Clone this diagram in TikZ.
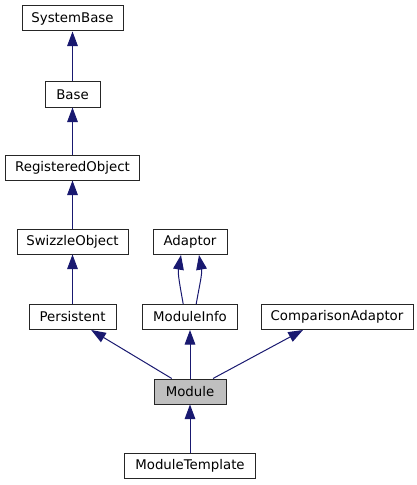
\documentclass[tikz,border=0pt]{standalone}
\usepackage{fontspec}
\setmainfont{DejaVu Sans}
\usetikzlibrary{arrows.meta}
\definecolor{edgeblue}{HTML}{191970}
\definecolor{current}{HTML}{BFBFBF}

\begin{document}
\begin{tikzpicture}[x=0.75pt,y=-0.75pt,
	cls/.style={draw=black!85,line width=0.75pt,fill=white,font=\fontsize{10}{12}\selectfont,
		minimum height=18.75pt,inner sep=0pt},
	inherit/.style={edgeblue,line width=0.75pt,{Triangle[length=11pt,width=8pt]}-}]
	\useasboundingbox (0,0) rectangle (417,485);
	% classes
	\node[cls,minimum width=75.75pt] (SystemBase) at (72.5,18.5) {SystemBase};
	\node[cls,minimum width=41.25pt] (Base) at (72.5,94.5) {Base};
	\node[cls,minimum width=100.5pt] (RegisteredObject) at (72.5,167.5) {RegisteredObject};
	\node[cls,minimum width=83.25pt] (SwizzleObject) at (72.5,241.5) {SwizzleObject};
	\node[cls,minimum width=55.5pt] (Adaptor) at (190,242) {Adaptor};
	\node[cls,minimum width=65.25pt] (Persistent) at (72.5,317) {Persistent};
	\node[cls,minimum width=71.25pt] (ModuleInfo) at (190,317) {ModuleInfo};
	\node[cls,minimum width=114pt] (ComparisonAdaptor) at (337,317) {ComparisonAdaptor};
	\node[cls,fill=current,minimum width=54pt] (Module) at (190,391.5) {Module};
	\node[cls,minimum width=98.25pt] (ModuleTemplate) at (190,466) {ModuleTemplate};
	% inheritance
	\draw[inherit] (SystemBase) -- (Base);
	\draw[inherit] (Base) -- (RegisteredObject);
	\draw[inherit] (RegisteredObject) -- (SwizzleObject);
	\draw[inherit] (SwizzleObject) -- (Persistent);
	\draw[inherit] ([xshift=-6.75pt]Adaptor.south) to[out=-100,in=100] ([xshift=-5.1pt]ModuleInfo.north);
	\draw[inherit] ([xshift=6.75pt]Adaptor.south) to[out=-80,in=80] ([xshift=4.65pt]ModuleInfo.north);
	\draw[inherit] ([xshift=14pt]Persistent.south) -- ([xshift=-13.7pt]Module.north);
	\draw[inherit] (ModuleInfo) -- (Module);
	\draw[inherit] ([xshift=-25.5pt]ComparisonAdaptor.south) -- ([xshift=17.25pt]Module.north);
	\draw[inherit] (Module) -- (ModuleTemplate);
\end{tikzpicture}
\end{document}
